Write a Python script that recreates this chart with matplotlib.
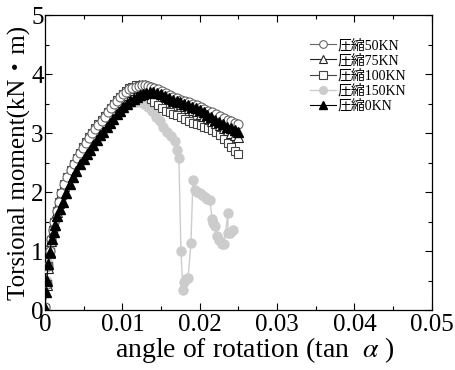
import matplotlib
matplotlib.use("Agg")
import matplotlib.pyplot as plt
from matplotlib.ticker import MultipleLocator, FixedLocator

# ---- data ----
x_open = [0, 0.0002, 0.0004, 0.0006, 0.0008, 0.001, 0.0012, 0.0015, 0.0018, 0.0021,
          0.0025, 0.0029, 0.0033, 0.0037, 0.0041, 0.0045, 0.0049, 0.0053, 0.0057, 0.0061,
          0.0065, 0.0069, 0.0073, 0.0077, 0.0081, 0.0085, 0.0089, 0.0093, 0.0097, 0.0101,
          0.0105, 0.0109, 0.0113, 0.0117, 0.0121, 0.0125, 0.0129, 0.0133, 0.0137, 0.0141,
          0.0146, 0.0151, 0.0156, 0.0161, 0.0166, 0.0171, 0.0176, 0.0181, 0.0186, 0.0191,
          0.0196, 0.0201, 0.0206, 0.0211, 0.0216, 0.0221, 0.0226, 0.0231, 0.0236, 0.0241,
          0.0246, 0.025]
y_50 = [0.05, 0.45, 0.75, 1.0, 1.2, 1.36, 1.5, 1.68, 1.84, 1.98,
        2.13, 2.26, 2.37, 2.47, 2.57, 2.66, 2.75, 2.84, 2.92, 3.0,
        3.07, 3.14, 3.21, 3.28, 3.35, 3.42, 3.49, 3.55, 3.61, 3.66,
        3.70, 3.74, 3.77, 3.79, 3.80, 3.81, 3.81, 3.80, 3.78, 3.76,
        3.74, 3.71, 3.68, 3.65, 3.62, 3.59, 3.57, 3.54, 3.52, 3.50,
        3.47, 3.44, 3.41, 3.38, 3.35, 3.32, 3.29, 3.26, 3.23, 3.20,
        3.17, 3.15]
y_75 = [0.04, 0.42, 0.72, 0.97, 1.17, 1.33, 1.48, 1.66, 1.82, 1.96,
        2.11, 2.24, 2.35, 2.45, 2.55, 2.64, 2.73, 2.82, 2.90, 2.98,
        3.05, 3.12, 3.19, 3.26, 3.33, 3.40, 3.47, 3.53, 3.59, 3.64,
        3.69, 3.73, 3.76, 3.79, 3.81, 3.82, 3.81, 3.80, 3.78, 3.75,
        3.70, 3.66, 3.62, 3.58, 3.55, 3.52, 3.49, 3.46, 3.43, 3.40,
        3.37, 3.33, 3.29, 3.25, 3.21, 3.17, 3.13, 3.09, 3.05, 3.01,
        2.97, 2.94]
y_100 = [0.04, 0.44, 0.74, 0.99, 1.19, 1.35, 1.5, 1.68, 1.84, 1.98,
         2.13, 2.26, 2.38, 2.48, 2.58, 2.67, 2.76, 2.85, 2.93, 3.01,
         3.08, 3.15, 3.22, 3.29, 3.36, 3.43, 3.50, 3.56, 3.62, 3.67,
         3.71, 3.76, 3.79, 3.81, 3.80, 3.76, 3.70, 3.64, 3.58, 3.52,
         3.47, 3.42, 3.38, 3.35, 3.32, 3.30, 3.27, 3.24, 3.21, 3.18,
         3.16, 3.14, 3.11, 3.08, 3.05, 3.02, 2.97, 2.90, 2.83, 2.76,
         2.69, 2.65]

x_150 = [0, 0.0002, 0.0004, 0.0006, 0.0008, 0.001, 0.0013, 0.0016, 0.002, 0.0024,
         0.0028, 0.0033, 0.0038, 0.0043, 0.0048, 0.0053, 0.0058, 0.0063, 0.0068, 0.0073,
         0.0078, 0.0083, 0.0088, 0.0093, 0.0098, 0.0103, 0.0108, 0.0113, 0.0118, 0.0123,
         0.0128, 0.0133, 0.0138, 0.0143, 0.0148, 0.0153, 0.0158, 0.0163, 0.0168, 0.0171,
         0.0173, 0.01757, 0.01783, 0.01796, 0.0182, 0.01848, 0.01886, 0.01912, 0.01938, 0.0197,
         0.02003, 0.02035, 0.02067, 0.021, 0.02132, 0.02158, 0.02175, 0.02196, 0.02222, 0.0225,
         0.02287, 0.02313, 0.02364, 0.02364, 0.0239, 0.02429]
y_150 = [0.05, 0.5, 0.8, 1.03, 1.2, 1.35, 1.53, 1.68, 1.86, 2.02,
         2.15, 2.3, 2.43, 2.55, 2.65, 2.75, 2.85, 2.94, 3.03, 3.11,
         3.19, 3.26, 3.32, 3.38, 3.43, 3.47, 3.5, 3.52, 3.53, 3.53,
         3.5, 3.44, 3.37, 3.28, 3.2, 3.1, 3.02, 2.95, 2.86, 2.72,
         2.58, 1.0, 0.34, 0.47, 0.52, 0.54, 1.13, 2.2, 2.03, 2.0,
         1.98, 1.95, 1.92, 1.89, 1.86, 1.55, 1.48, 1.42, 1.25, 1.18,
         1.12, 1.12, 1.64, 1.3, 1.31, 1.36]

x_0 = [0, 0.0001, 0.0002, 0.0004, 0.0006, 0.0009, 0.0011, 0.0013, 0.0016, 0.0019,
       0.0023, 0.0027, 0.0032, 0.0036, 0.004, 0.0045, 0.005, 0.0054, 0.0058, 0.0062,
       0.0067, 0.0071, 0.0075, 0.008, 0.0084, 0.0088, 0.0093, 0.0097, 0.0101, 0.0106,
       0.011, 0.0115, 0.0119, 0.0123, 0.0127, 0.0131, 0.0136, 0.014, 0.0145, 0.015,
       0.0155, 0.016, 0.0165, 0.017, 0.0175, 0.018, 0.0185, 0.019, 0.0195, 0.02,
       0.0205, 0.021, 0.0215, 0.022, 0.0225, 0.023, 0.0235, 0.024, 0.0245, 0.025]
y_0 = [0.03, 0.3, 0.5, 0.78, 0.98, 1.2, 1.33, 1.45, 1.6, 1.72,
       1.84, 1.98, 2.14, 2.25, 2.36, 2.47, 2.56, 2.64, 2.72, 2.8,
       2.89, 2.96, 3.02, 3.1, 3.17, 3.24, 3.32, 3.38, 3.44, 3.5,
       3.54, 3.58, 3.62, 3.65, 3.67, 3.68, 3.69, 3.69, 3.68, 3.66,
       3.63, 3.60, 3.57, 3.54, 3.52, 3.50, 3.47, 3.45, 3.42, 3.39,
       3.35, 3.31, 3.27, 3.23, 3.19, 3.15, 3.11, 3.08, 3.05, 3.02]

labels = ["圧縮50KN", "圧縮75KN", "圧縮100KN", "圧縮150KN", "圧縮0KN"]
x_ticks = [0, 0.01, 0.02, 0.03, 0.04, 0.05]
x_tick_labels = ["0", "0.01", "0.02", "0.03", "0.04", "0.05"]
y_ticks = [0, 1, 2, 3, 4, 5]

fam = ["Liberation Serif", "Noto Sans CJK JP"]
plt.rcParams["font.family"] = fam
plt.rcParams["mathtext.fontset"] = "stix"

fig = plt.figure(figsize=(4.55, 3.70), dpi=100)
ax = fig.add_axes([0.099, 0.162, 0.850, 0.797])

ms = 6.5
lw = 0.8
h50, = ax.plot(x_open, y_50, "-o", color="#666666", mfc="white", mec="#666666",
               ms=ms, lw=lw, mew=0.8, zorder=4, label=labels[0])
h75, = ax.plot(x_open, y_75, "-^", color="#222222", mfc="white", mec="#222222",
               ms=ms, lw=lw, mew=0.8, zorder=3, label=labels[1])
h100, = ax.plot(x_open, y_100, "-s", color="#444444", mfc="white", mec="#444444",
                ms=ms - 0.5, lw=lw, mew=0.8, zorder=2, label=labels[2])
h150, = ax.plot(x_150, y_150, "-o", color="#cccccc", mfc="#cccccc", mec="#cccccc",
                ms=ms, lw=1.0, zorder=1, label=labels[3])
h0, = ax.plot(x_0, y_0, "-^", color="black", mfc="black", mec="black",
              ms=ms + 0.5, lw=lw, zorder=5, label=labels[4])

ax.set_xlim(0, 0.05)
ax.set_ylim(0, 5)
ax.xaxis.set_major_locator(FixedLocator(x_ticks))
ax.set_xticklabels(x_tick_labels)
ax.xaxis.set_minor_locator(MultipleLocator(0.005))
ax.yaxis.set_major_locator(FixedLocator(y_ticks))
ax.yaxis.set_minor_locator(MultipleLocator(0.5))
ax.tick_params(which="both", direction="in", top=True, right=True, width=0.8)
ax.tick_params(which="major", length=5, labelsize=18)
ax.tick_params(axis="y", which="major", pad=1)
ax.tick_params(axis="x", which="major", pad=3)
ax.tick_params(which="minor", length=3)
for s in ax.spines.values():
    s.set_linewidth(0.9)

ax.set_xlabel("angle of rotation (tan  $\\alpha$ )", fontsize=20)
ax.xaxis.set_label_coords(0.543, -0.085)
ax.set_ylabel("Torsional moment(kN・m)", fontsize=18, labelpad=0)

leg = ax.legend(handles=[h50, h75, h100, h150, h0], loc="upper left",
                bbox_to_anchor=(0.685, 0.92), frameon=False, fontsize=10,
                handlelength=1.9, handletextpad=0.1, labelspacing=0.12,
                borderpad=0, borderaxespad=0, markerscale=0.85)

fig.savefig("out.png", dpi=100)
